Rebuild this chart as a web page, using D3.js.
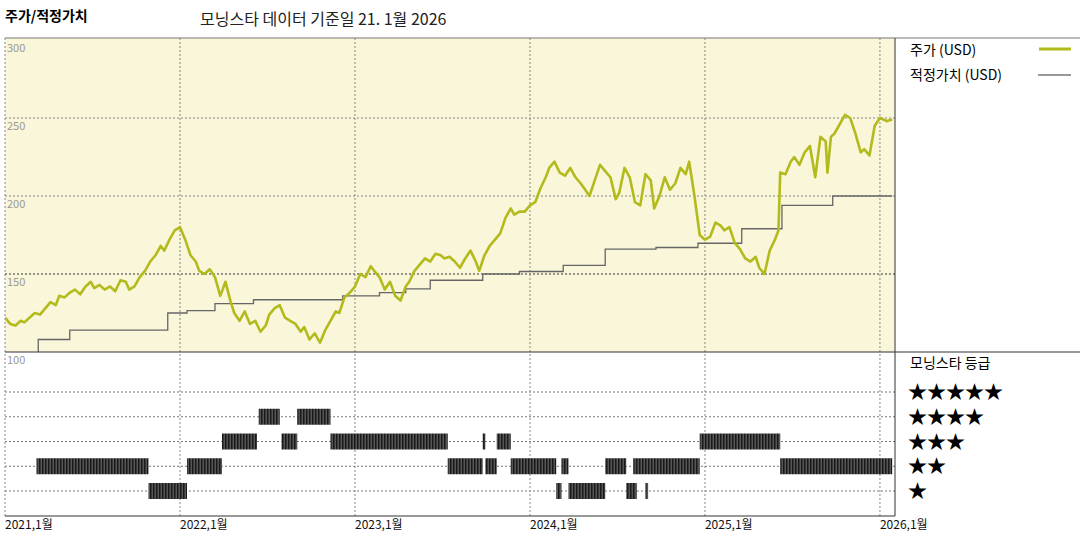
<!DOCTYPE html>
<html><head><meta charset="utf-8">
<script src="https://cdn.jsdelivr.net/npm/d3@7"></script>
<style>body{margin:0;background:#fff}text{font-family:"Noto Sans CJK KR","DejaVu Sans",sans-serif}</style>
</head><body><svg id="c" width="1080" height="540"></svg>
<script>
const priceT=[2021.00,2021.03,2021.06,2021.09,2021.11,2021.14,2021.17,2021.20,2021.23,2021.26,2021.29,2021.31,2021.34,2021.37,2021.40,2021.43,2021.46,2021.49,2021.51,2021.54,2021.57,2021.60,2021.63,2021.66,2021.69,2021.71,2021.74,2021.77,2021.80,2021.83,2021.86,2021.89,2021.91,2021.94,2021.97,
2022.00,2022.03,2022.06,2022.09,2022.11,2022.14,2022.17,2022.20,2022.23,2022.26,2022.29,2022.31,2022.34,2022.37,2022.40,2022.43,2022.46,2022.49,2022.51,2022.54,2022.57,2022.60,2022.63,2022.66,2022.69,2022.71,2022.74,2022.77,2022.80,2022.83,2022.86,2022.89,2022.91,2022.94,2022.97,
2023.00,2023.03,2023.06,2023.09,2023.11,2023.14,2023.17,2023.20,2023.23,2023.26,2023.29,2023.31,2023.34,2023.37,2023.40,2023.43,2023.46,2023.49,2023.51,2023.54,2023.57,2023.60,2023.63,2023.66,2023.69,2023.71,2023.74,2023.77,2023.80,2023.83,2023.86,2023.89,2023.91,2023.94,2023.97,
2024.00,2024.03,2024.06,2024.09,2024.11,2024.14,2024.17,2024.20,2024.23,2024.26,2024.29,2024.31,2024.34,2024.37,2024.40,2024.43,2024.46,2024.49,2024.51,2024.54,2024.57,2024.60,2024.63,2024.66,2024.69,2024.71,2024.74,2024.77,2024.80,2024.83,2024.86,2024.89,2024.91,2024.94,2024.97,
2025.00,2025.03,2025.06,2025.09,2025.11,2025.14,2025.17,2025.20,2025.23,2025.26,2025.29,2025.31,2025.34,2025.37,2025.40,2025.42,2025.43,2025.46,2025.49,2025.51,2025.54,2025.57,2025.60,2025.63,2025.66,2025.69,2025.70,2025.72,2025.74,2025.77,2025.80,2025.83,2025.86,2025.89,2025.91,2025.94,2025.97,2026.00,2026.04,2026.07];
const priceV=[122,118,117,120,119,122,125,124,128,132,130,136,135,138,140,137,142,145,141,143,140,142,139,146,145,140,142,148,152,158,162,168,165,172,178,
180,172,162,158,152,150,153,148,136,145,132,125,120,126,118,120,113,117,124,128,130,122,120,118,113,116,108,112,106,114,120,126,125,135,138,
142,150,148,155,152,148,140,145,136,133,142,145,152,156,160,158,163,162,160,161,158,154,160,165,158,152,162,168,172,176,186,192,188,190,190,
194,196,205,212,218,222,215,213,218,212,208,205,200,210,220,216,212,198,202,218,212,196,194,214,210,192,200,212,204,208,218,214,222,200,175,
172,174,183,181,178,180,170,166,160,158,161,154,150,165,172,178,215,214,222,225,220,228,232,212,238,235,215,238,240,246,252,250,240,228,230,226,245,250,248,249];
const fairT=[2021.19,2021.37,2021.93,2022.04,2022.20,2022.42,2022.93,2023.14,2023.29,2023.43,2023.73,2023.94,2024.19,2024.43,2024.72,2024.96,2025.21,2025.44,2025.73,2025.98,2026.07];
const fairV=[103,108,114,125,126.5,131,133.5,136,138,140.5,146,150,151.6,155.5,166,167,169.7,179,194,200,200];
const stars5=[],stars4=[[2022.45,2022.57],[2022.67,2022.86]];
const stars3=[[2022.24,2022.44],[2022.58,2022.67],[2022.86,2023.53],[2023.73,2023.745],[2023.81,2023.89],[2024.97,2025.43]];
const stars2=[[2021.18,2021.82],[2022.04,2022.24],[2023.53,2023.73],[2023.745,2023.81],[2023.89,2024.15],[2024.18,2024.22],[2024.43,2024.55],[2024.59,2024.97],[2025.43,2026.07]];
const stars1=[[2021.82,2022.04],[2024.15,2024.18],[2024.22,2024.43],[2024.55,2024.61],[2024.66,2024.675]];
const yTicks=[300,250,200,150,100];
const xTicks=[2021,2022,2023,2024,2025,2026];
const starLabels=["★★★★★","★★★★","★★★","★★","★"];

const svg=d3.select("#c");
const L=5,R=895,T=38,M=352,B=516;
const x=d3.scaleLinear().domain([2021,2026.086]).range([L,R]);
const y=d3.scaleLinear().domain([100,300]).range([352,40]);
const ys=d3.scaleLinear().domain([5,1]).range([392,491]);
const defs=svg.append("defs");
const pat=defs.append("pattern").attr("id","hatch").attr("width",3).attr("height",10).attr("patternUnits","userSpaceOnUse");
pat.append("rect").attr("width",3).attr("height",10).attr("fill","#555");
pat.append("rect").attr("width",1.5).attr("height",10).attr("fill","#1a1a1a");
defs.append("clipPath").attr("id","clip").append("rect").attr("x",L).attr("y",T).attr("width",R-L).attr("height",M-T);

svg.append("rect").attr("x",L).attr("y",T).attr("width",R-L).attr("height",M-T).attr("fill","#f9f6d9");
svg.selectAll(".hg").data([250,200,150]).join("line").attr("x1",L).attr("x2",R).attr("y1",d=>y(d)).attr("y2",d=>y(d))
 .attr("stroke",d=>d==150?"#333":"#888").attr("stroke-dasharray","2,2").attr("stroke-width",1);
svg.selectAll(".sg").data([5,4,3,2,1]).join("line").attr("x1",L).attr("x2",R).attr("y1",d=>ys(d)).attr("y2",d=>ys(d))
 .attr("stroke","#777").attr("stroke-dasharray","2,2");
svg.selectAll(".vg").data(xTicks.slice(1)).join("line").attr("x1",d=>x(d)).attr("x2",d=>x(d)).attr("y1",T).attr("y2",B)
 .attr("stroke","#888").attr("stroke-dasharray","2,2");
svg.append("line").attr("x1",L).attr("x2",L).attr("y1",T).attr("y2",B).attr("stroke","#888").attr("stroke-dasharray","2,2");
svg.selectAll(".yl").data(yTicks).join("text").attr("x",7).attr("y",d=>y(d)+12).attr("font-size",11).attr("fill","#999").text(d=>d);
const fairData=[[2021.19,99]].concat(fairT.map((t,i)=>[t,fairV[i]]));
const g=svg.append("g").attr("clip-path","url(#clip)");
g.append("path").attr("d",d3.line().x(d=>x(d[0])).y(d=>y(d[1])).curve(d3.curveStepBefore)(fairData))
 .attr("fill","none").attr("stroke","#666").attr("stroke-width",1.3);
g.append("path").attr("d",d3.line().x((d,i)=>x(priceT[i])).y(d=>y(d))(priceV))
 .attr("fill","none").attr("stroke","#b3bb1c").attr("stroke-width",2.6).attr("stroke-linejoin","round");
[[5,stars5],[4,stars4],[3,stars3],[2,stars2],[1,stars1]].forEach(([s,arr])=>{
 svg.selectAll(".b"+s).data(arr).join("rect").attr("x",d=>x(d[0])).attr("width",d=>Math.max(1.5,x(d[1])-x(d[0])))
  .attr("y",ys(s)-8).attr("height",16).attr("fill","url(#hatch)");
});
svg.append("line").attr("x1",L).attr("x2",1080).attr("y1",T).attr("y2",T).attr("stroke","#777");
svg.append("line").attr("x1",L).attr("x2",1080).attr("y1",M).attr("y2",M).attr("stroke","#333");
svg.append("line").attr("x1",R).attr("x2",R).attr("y1",T).attr("y2",B).attr("stroke","#333");
svg.append("line").attr("x1",L).attr("x2",R).attr("y1",B).attr("y2",B).attr("stroke","#333");
svg.selectAll(".xl").data(xTicks).join("text").attr("x",d=>x(d)).attr("y",529).attr("font-size",12).attr("fill","#111").text(d=>d+",1월");
svg.append("text").attr("x",5).attr("y",21).attr("font-size",14).attr("font-weight","bold").text("주가/적정가치");
svg.append("text").attr("x",200).attr("y",25).attr("font-size",16).attr("fill","#222").text("모닝스타 데이터 기준일 21. 1월 2026");
svg.append("text").attr("x",910).attr("y",55).attr("font-size",14).text("주가 (USD)");
svg.append("line").attr("x1",1039).attr("x2",1071).attr("y1",49).attr("y2",49).attr("stroke","#b3bb1c").attr("stroke-width",3);
svg.append("text").attr("x",910).attr("y",80).attr("font-size",14).text("적정가치 (USD)");
svg.append("line").attr("x1",1038).attr("x2",1071).attr("y1",75).attr("y2",75).attr("stroke","#777").attr("stroke-width",1.3);
svg.append("text").attr("x",910).attr("y",368).attr("font-size",14).text("모닝스타 등급");
svg.selectAll(".st").data(starLabels).join("text").attr("x",908).attr("y",(d,i)=>ys(5-i)+7).attr("font-size",19).attr("fill","#000").attr("font-family","DejaVu Sans").text(d=>d);
</script></body></html>
